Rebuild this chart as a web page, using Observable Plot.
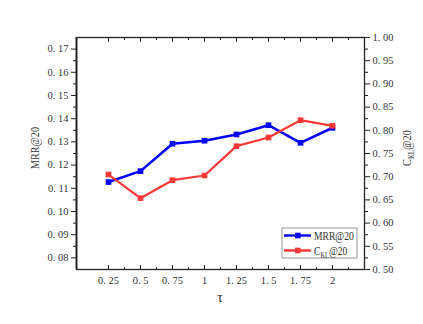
<!DOCTYPE html>
<html><head><meta charset="utf-8">
<script src="https://cdn.jsdelivr.net/npm/d3@7"></script>
<script src="https://cdn.jsdelivr.net/npm/@observablehq/plot@0.6"></script>
<style>
body{margin:0;background:#fff;}
#chart{position:relative;width:423px;height:324px;}
#chart svg text{font-family:'Liberation Serif','DejaVu Serif',serif !important;}
</style>
</head><body><div id="chart"></div>
<script>
const tau = [0.25, 0.5, 0.75, 1, 1.25, 1.5, 1.75, 2];
const mrr = [0.1127, 0.1174, 0.1292, 0.1305, 0.1332, 0.1372, 0.1296, 0.1361];
const ckl = [0.7047, 0.6537, 0.6925, 0.7026, 0.7658, 0.7845, 0.8218, 0.8097];
const xTicks = [0.25, 0.5, 0.75, 1, 1.25, 1.5, 1.75, 2];
const xMinor = [0.375, 0.625, 0.875, 1.125, 1.375, 1.625, 1.875, 2.125];
const leftTicks = [0.08, 0.09, 0.10, 0.11, 0.12, 0.13, 0.14, 0.15, 0.16, 0.17];
const leftMinor = [0.085, 0.095, 0.105, 0.115, 0.125, 0.135, 0.145, 0.155, 0.165];
const rightTicks = [0.50, 0.55, 0.60, 0.65, 0.70, 0.75, 0.80, 0.85, 0.90, 0.95, 1.00];
const rightMinor = [0.525, 0.575, 0.625, 0.675, 0.725, 0.775, 0.825, 0.875, 0.925, 0.975];
const xDomain = [0, 2.25];
const leftDomain = [0.075, 0.175];
const rightDomain = [0.5, 1.0];
const seriesNames = ["MRR@20", "C_KL@20"];
const seriesColors = ["#0000ff", "#ff3838"];
const xTitle = "τ";

const toLeft = d3.scaleLinear(rightDomain, leftDomain);
const fmtX = d => String(d).replace(".", ". ");
const fmt2 = d => d3.format(".2f")(d).replace(".", ". ");

const dataM = tau.map((t, i) => ({t, v: mrr[i]}));
const dataC = tau.map((t, i) => ({t, v: toLeft(ckl[i])}));
const FONT = "'Liberation Serif', 'DejaVu Serif', serif";

const plot = Plot.plot({
  width: 423, height: 324,
  marginLeft: 76, marginRight: 59, marginTop: 37, marginBottom: 55,
  style: {fontFamily: FONT, fontSize: "10.5px", color: "#333", background: "#fff", overflow: "visible"},
  x: {domain: xDomain},
  y: {domain: leftDomain},
  marks: [
    Plot.frame({stroke: "#222", strokeWidth: 1.3}),
    Plot.axisX(xTicks, {anchor: "bottom", tickSize: -4, tickPadding: 11, tickFormat: fmtX, label: null, stroke: "#222"}),
    Plot.axisX(xMinor, {anchor: "bottom", tickSize: -2, tickFormat: () => "", label: null, stroke: "#222"}),
    Plot.axisX(xTicks, {anchor: "top", tickSize: -4, tickFormat: () => "", label: null, stroke: "#222"}),
    Plot.axisX(xMinor, {anchor: "top", tickSize: -2, tickFormat: () => "", label: null, stroke: "#222"}),
    Plot.axisY(leftTicks, {anchor: "left", tickSize: 5, tickPadding: 3, tickFormat: fmt2, label: null, stroke: "#222"}),
    Plot.axisY(leftMinor, {anchor: "left", tickSize: 3, tickFormat: () => "", label: null, stroke: "#222"}),
    Plot.axisY(rightTicks.map(toLeft), {anchor: "right", tickSize: 5, tickPadding: 3, tickFormat: (d, i) => fmt2(rightTicks[i]), label: null, stroke: "#222"}),
    Plot.axisY(rightMinor.map(toLeft), {anchor: "right", tickSize: 3, tickFormat: () => "", label: null, stroke: "#222"}),
    Plot.ruleX([xDomain[0]], {stroke: "#222", strokeWidth: 1.8}),
    Plot.line(dataM, {x: "t", y: "v", stroke: seriesColors[0], strokeWidth: 2.6}),
    Plot.dot(dataM, {x: "t", y: "v", symbol: "square", r: 3.2, fill: seriesColors[0]}),
    Plot.line(dataC, {x: "t", y: "v", stroke: seriesColors[1], strokeWidth: 2.2}),
    Plot.dot(dataC, {x: "t", y: "v", symbol: "square", r: 3.2, fill: seriesColors[1]})
  ]
});

const svg = d3.select(plot);
// axis titles
svg.append("text").attr("transform", "translate(220,302)")
  .attr("text-anchor", "middle").attr("font-size", 15).attr("fill", "#333")
  .text(xTitle);
svg.append("text").attr("transform", "translate(39,148) rotate(-90) scale(0.78,1)")
  .attr("text-anchor", "middle").attr("font-size", 13).attr("fill", "#333")
  .text(seriesNames[0]);
const rt = svg.append("text").attr("transform", "translate(411,148) rotate(-90) scale(0.8,1)")
  .attr("text-anchor", "middle").attr("font-size", 13).attr("fill", "#333");
rt.append("tspan").text("C");
rt.append("tspan").attr("font-size", 8.5).attr("dy", 3).text("KL");
rt.append("tspan").attr("dy", -3).text("@20");

// legend
const lg = svg.append("g").attr("transform", "translate(282,228)");
lg.append("rect").attr("width", 75).attr("height", 30).attr("fill", "#fff").attr("stroke", "#999").attr("stroke-width", 1);
seriesNames.forEach((name, i) => {
  const y = 7.5 + i * 15;
  lg.append("line").attr("x1", 2).attr("x2", 29).attr("y1", y).attr("y2", y)
    .attr("stroke", seriesColors[i]).attr("stroke-width", 2.4);
  lg.append("rect").attr("x", 13).attr("y", y - 2.8).attr("width", 5.6).attr("height", 5.6).attr("fill", seriesColors[i]);
  const t = lg.append("text").attr("transform", `translate(32,${y + 4}) scale(0.8,1)`).attr("text-anchor", "start")
    .attr("font-size", 12).attr("fill", "#333");
  if (name.startsWith("C_KL")) {
    t.append("tspan").text("C");
    t.append("tspan").attr("font-size", 8).attr("dy", 3).text("KL");
    t.append("tspan").attr("dy", -3).text("@20");
  } else t.text(name);
});

document.getElementById("chart").appendChild(plot);
</script>
</body></html>
